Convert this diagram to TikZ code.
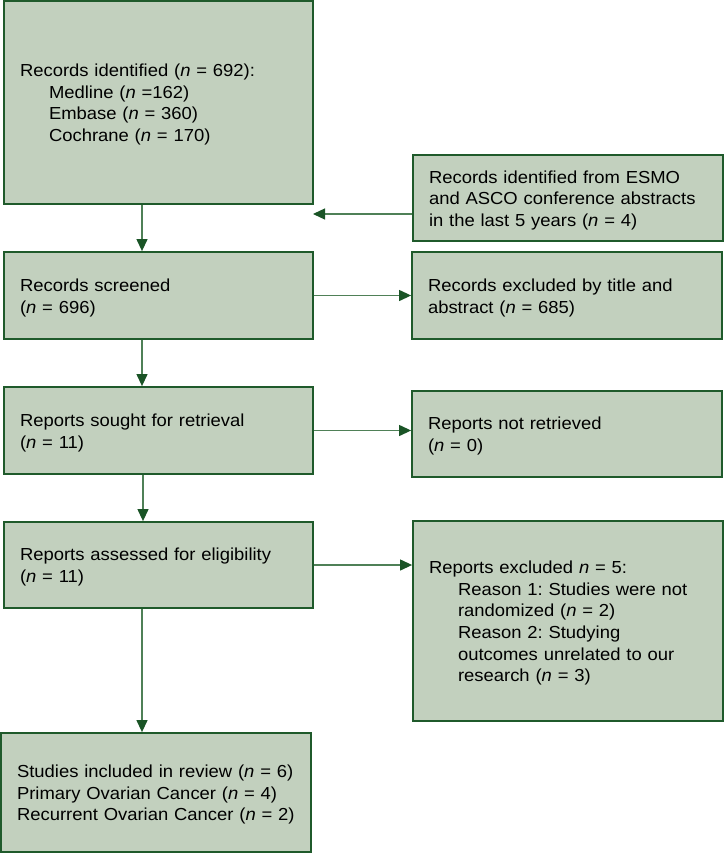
\documentclass[tikz,border=0pt]{standalone}
\usepackage{fontspec}
\setmainfont[FakeStretch=1.06]{Liberation Sans}
\usetikzlibrary{arrows.meta}
\definecolor{boxfill}{HTML}{C2D0BE}
\definecolor{boxline}{HTML}{1F5A2B}
\definecolor{arrline}{HTML}{4F8057}
\definecolor{arrhead}{HTML}{1A5426}
\newcommand{\nn}{\textit{n}}
\newcommand{\mline}[1]{\mbox{#1}}
\newcommand{\ind}{\hspace*{29pt}}
\frenchspacing
\begin{document}
\begin{tikzpicture}[x=1pt,y=-1pt,
  flowbox/.style={draw=boxline, fill=boxfill, line width=1.8pt, rectangle,
    align=left, inner xsep=16pt, inner ysep=0pt,
    font=\fontsize{17.4}{21.6}\selectfont\frenchspacing,
    execute at begin node={\rule{0pt}{17pt}}},
  flowarrow/.style={draw=arrline, line width=1.2pt,
    -{Triangle[length=12pt,width=11pt,color=arrhead]}}]
\useasboundingbox (0,0) rectangle (724,853);

\node[flowbox, text width=277pt, minimum height=203pt] (ident) at (158.5,102.5)
  {\mline{Records identified (\nn{} = 692):}\\
   \ind\mline{Medline (\nn{} =162)}\\
   \ind\mline{Embase (\nn{} = 360)}\\
   \ind\mline{Cochrane (\nn{} = 170)}};

\node[flowbox, text width=278pt, minimum height=86pt] (esmo) at (568,198)
  {\mline{Records identified from ESMO}\\
   \mline{and ASCO conference abstracts}\\
   \mline{in the last 5 years (\nn{} = 4)}};

\node[flowbox, text width=277pt, minimum height=87pt] (screened) at (158.5,295.5)
  {\mline{Records screened}\\
   \mline{(\nn{} = 696)}};

\node[flowbox, text width=278pt, minimum height=87pt] (excltitle) at (567,295.5)
  {\mline{Records excluded by title and}\\
   \mline{abstract (\nn{} = 685)}};

\node[flowbox, text width=277pt, minimum height=87pt] (sought) at (158.5,430.5)
  {\mline{Reports sought for retrieval}\\
   \mline{(\nn{} = 11)}};

\node[flowbox, text width=278pt, minimum height=86pt] (notretr) at (567,434)
  {\mline{Reports not retrieved}\\
   \mline{(\nn{} = 0)}};

\node[flowbox, text width=277pt, minimum height=86pt] (assessed) at (158.5,565)
  {\mline{Reports assessed for eligibility}\\
   \mline{(\nn{} = 11)}};

\node[flowbox, text width=278pt, minimum height=200pt] (exclrep) at (568,621)
  {\mline{Reports excluded \nn{} = 5:}\\
   \ind\mline{Reason 1: Studies were not}\\
   \ind\mline{randomized (\nn{} = 2)}\\
   \ind\mline{Reason 2: Studying}\\
   \ind\mline{outcomes unrelated to our}\\
   \ind\mline{research (\nn{} = 3)}};

\node[flowbox, text width=278pt, minimum height=119pt] (included) at (156,792.5)
  {\mline{Studies included in review (\nn{} = 6)}\\
   \mline{Primary Ovarian Cancer (\nn{} = 4)}\\
   \mline{Recurrent Ovarian Cancer (\nn{} = 2)}};

\coordinate (colA) at (142,0);
\coordinate (colB) at (143,0);
\coordinate (esmoend) at (313,214);

\draw[flowarrow] (ident.south -| colA) -- (screened.north -| colA);
\draw[flowarrow] (screened.south -| colA) -- (sought.north -| colA);
\draw[flowarrow] (sought.south -| colB) -- (assessed.north -| colB);
\draw[flowarrow] (assessed.south -| colA) -- (included.north -| colA);

\draw[flowarrow] (esmo.west |- esmoend) -- (esmoend);
\draw[flowarrow] (screened.east) -- (excltitle.west |- screened.east);
\draw[flowarrow] (sought.east) -- (notretr.west |- sought.east);
\draw[flowarrow] (assessed.east) -- (exclrep.west |- assessed.east);
\end{tikzpicture}
\end{document}
